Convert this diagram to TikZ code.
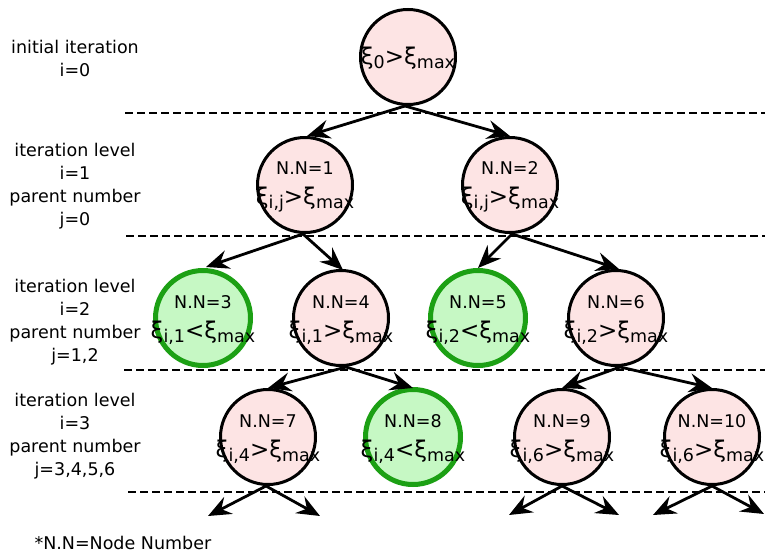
\documentclass[tikz,border=0pt]{standalone}
\usepackage{fontspec}
\setmainfont{DejaVu Sans}
\usetikzlibrary{arrows.meta}
\definecolor{pinkfill}{RGB}{253,228,228}
\definecolor{greenfill}{RGB}{198,248,196}
\definecolor{greendraw}{RGB}{28,160,20}
\newcommand\bigX[1]{{\fontsize{23}{23}\selectfont #1}}
\newcommand\cond[2]{\bigX{ξ}\raisebox{-4pt}{#1}\bigX{#2ξ}\raisebox{-4pt}{max}}
\tikzset{
  arr/.style={line width=2.8pt, -{Stealth[length=23pt, width=19pt, inset=8pt]}},
}
\begin{document}
\begin{tikzpicture}[x=1pt,y=-1pt,
  base/.style={circle, minimum size=95pt, inner sep=0pt},
  pinknode/.style={base, draw=black, line width=3pt, fill=pinkfill},
  greennode/.style={base, draw=greendraw, line width=5pt, fill=greenfill},
  txt/.style={inner sep=0pt, align=center, font=\fontsize{17.5}{30}\selectfont},
  sep/.style={dash pattern=on 8pt off 4pt, line width=2pt},
  side/.style={align=center, font=\fontsize{17.5}{23}\selectfont}]
\useasboundingbox (0,0) rectangle (765,557);

% separators
\draw[sep] (125,113) -- (765,113);
\draw[sep] (126,236) -- (765,236);
\draw[sep] (124,370) -- (765,370);
\draw[sep] (128,492) -- (765,492);

% side labels
\node[side] (l0) at (75,58) {initial iteration\\i=0};
\node[side] (l1) at (75,186) {iteration level\\i=1\\parent number\\j=0};
\node[side] (l2) at (75,322) {iteration level\\i=2\\parent number\\j=1,2};
\node[side] (l3) at (75,436) {iteration level\\i=3\\parent number\\j=3,4,5,6};
\node[side, anchor=west] (fn) at (31,543) {*N.N=Node Number};

% circles
\node[pinknode] (root) at (408,57) {};
\node[pinknode] (n1) at (305,185) {};
\node[pinknode] (n2) at (510,185) {};
\node[greennode] (n3) at (203,318) {};
\node[pinknode] (n4) at (341,318) {};
\node[greennode] (n5) at (478,318) {};
\node[pinknode] (n6) at (616,318) {};
\node[pinknode] (n7) at (268,437) {};
\node[greennode] (n8) at (413,437) {};
\node[pinknode] (n9) at (562,437) {};
\node[pinknode] (n10) at (712,437) {};

% texts
\node[txt] (t0) at ([yshift=-1pt]root.center) {\cond{0}{>}};
\node[txt] (t1) at ([yshift=-2pt]n1.center) {N.N=1\\\cond{i,j}{>}};
\node[txt] (t2) at ([yshift=-2pt]n2.center) {N.N=2\\\cond{i,j}{>}};
\node[txt] (t3) at ([yshift=-2pt]n3.center) {N.N=3\\\cond{i,1}{<}};
\node[txt] (t4) at ([yshift=-2pt]n4.center) {N.N=4\\\cond{i,1}{>}};
\node[txt] (t5) at ([yshift=-2pt]n5.center) {N.N=5\\\cond{i,2}{<}};
\node[txt] (t6) at ([yshift=-2pt]n6.center) {N.N=6\\\cond{i,2}{>}};
\node[txt] (t7) at ([yshift=-2pt]n7.center) {N.N=7\\\cond{i,4}{>}};
\node[txt] (t8) at ([yshift=-2pt]n8.center) {N.N=8\\\cond{i,4}{<}};
\node[txt] (t9) at ([yshift=-2pt]n9.center) {N.N=9\\\cond{i,6}{>}};
\node[txt] (t10) at ([yshift=-2pt]n10.center) {N.N=10\\\cond{i,6}{>}};

% free ends
\coordinate (e7a) at (208,516);
\coordinate (e7b) at (320,516);
\coordinate (e9a) at (509,515);
\coordinate (e9b) at (619,515);
\coordinate (e10a) at (653,515);
\coordinate (e10b) at (764,514);

% connectors
\draw[arr] ([xshift=-3pt]root.south) -- ([xshift=2pt]n1.north);
\draw[arr] ([xshift=-3pt]root.south) -- (n2.north);
\draw[arr] ([xshift=-2pt]n1.south) -- ([xshift=3pt,yshift=1pt]n3.north);
\draw[arr] ([xshift=-2pt]n1.south) -- ([xshift=2pt,yshift=-1pt]n4.north);
\draw[arr] ([xshift=2pt]n2.south) -- (n5.north);
\draw[arr] ([xshift=2pt]n2.south) -- ([xshift=3pt]n6.north);
\draw[arr] ([xshift=5pt]n4.south) -- (n7.north);
\draw[arr] ([xshift=5pt]n4.south) -- ([yshift=-1pt]n8.north);
\draw[arr] ([xshift=4pt]n6.south) -- (n9.north);
\draw[arr] ([xshift=4pt]n6.south) -- (n10.north);
\draw[arr] ([xshift=-2pt]n7.south) -- (e7a);
\draw[arr] ([xshift=-2pt]n7.south) -- (e7b);
\draw[arr] (n9.south) -- (e9a);
\draw[arr] (n9.south) -- (e9b);
\draw[arr] (n10.south) -- (e10a);
\draw[arr] (n10.south) -- (e10b);
\end{tikzpicture}
\end{document}
